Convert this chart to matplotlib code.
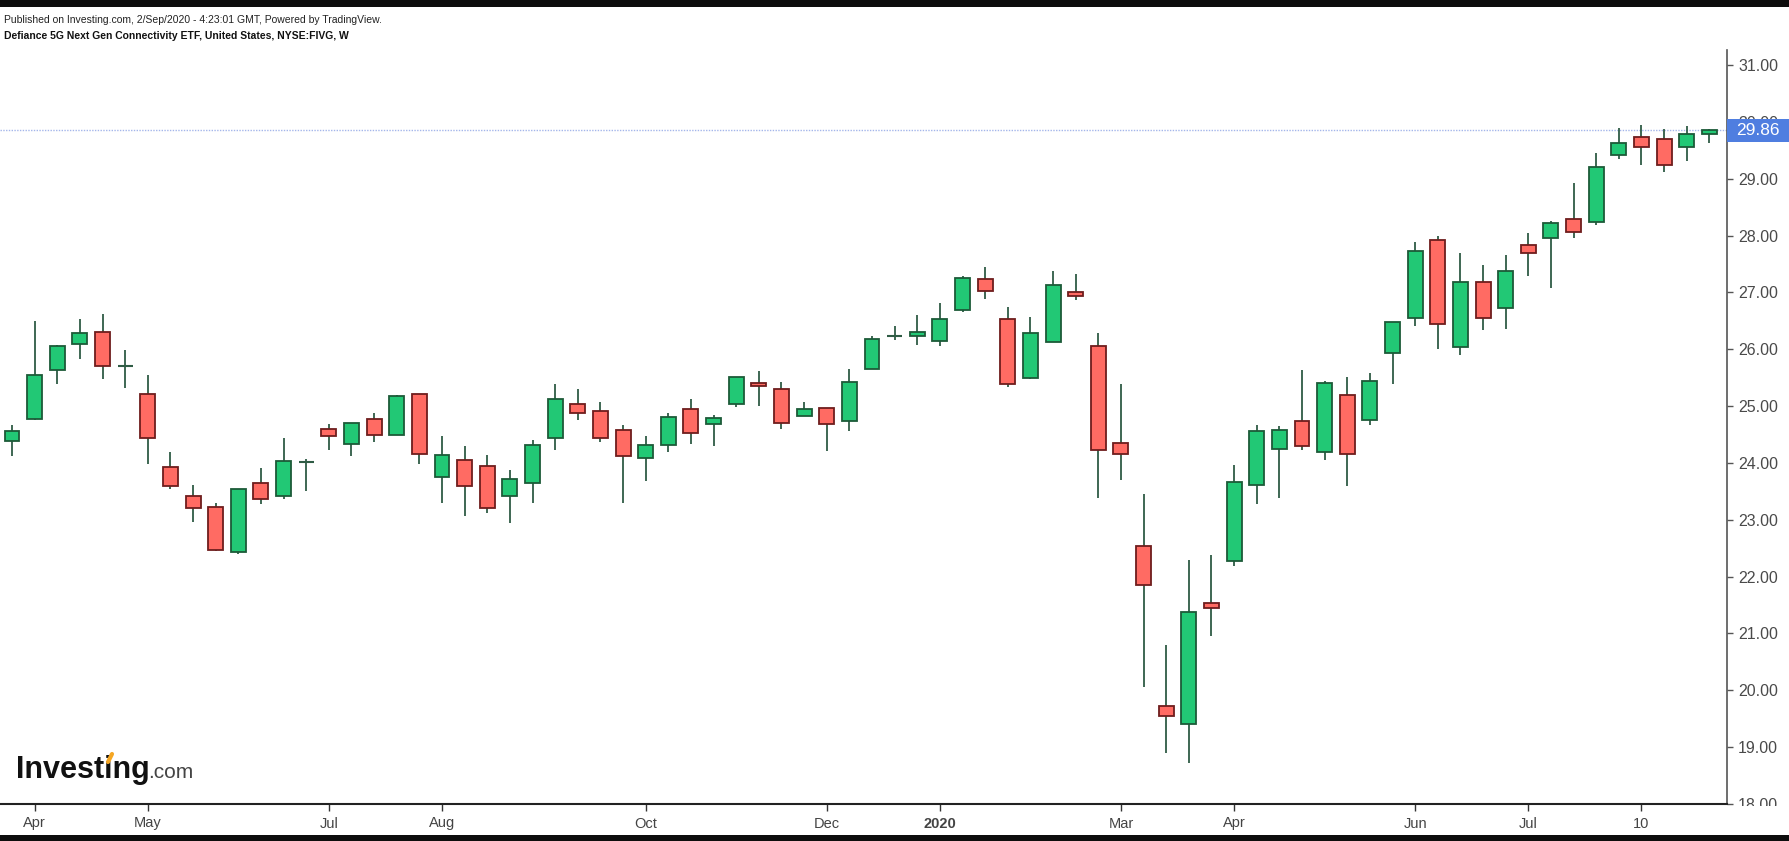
import numpy as np
import pandas as pd
import matplotlib
matplotlib.use('Agg')
import matplotlib.pyplot as plt
from matplotlib.patches import Rectangle
from matplotlib.lines import Line2D

plt.rcParams['font.family'] = ['Liberation Sans', 'DejaVu Sans']

# weekly bars, FIVG, 25 Mar 2019 .. 31 Aug 2020
opens = [24.39, 24.78, 25.63, 26.10, 26.31, 25.71, 25.22, 23.93, 23.41, 23.23,
         22.43, 23.65, 23.41, 24.01, 24.60, 24.34, 24.78, 24.49, 25.22, 23.75,
         24.06, 23.95, 23.41, 23.65, 24.44, 25.04, 24.91, 24.58, 24.08, 24.31,
         24.94, 24.68, 25.04, 25.41, 25.30, 24.83, 24.96, 24.73, 25.65, 26.23,
         26.23, 26.14, 26.69, 27.23, 26.54, 25.50, 26.12, 27.00, 26.05, 24.35,
         22.53, 19.72, 19.41, 21.54, 22.27, 23.61, 24.24, 24.73, 24.19, 25.20,
         24.75, 25.94, 26.55, 27.93, 26.04, 27.19, 26.72, 27.83, 27.95, 28.29,
         28.24, 29.42, 29.74, 29.69, 29.55, 29.79]
highs = [24.66, 26.49, 26.08, 26.54, 26.62, 25.98, 25.54, 24.19, 23.62, 23.29,
         23.54, 23.91, 24.43, 24.07, 24.69, 24.70, 24.87, 25.20, 25.22, 24.48,
         24.30, 24.14, 23.88, 24.40, 25.39, 25.30, 25.07, 24.66, 24.48, 24.87,
         25.12, 24.84, 25.51, 25.62, 25.43, 25.07, 24.96, 25.66, 26.24, 26.41,
         26.60, 26.81, 27.29, 27.45, 26.75, 26.57, 27.37, 27.32, 26.28, 25.38,
         23.46, 20.80, 22.30, 22.38, 23.97, 24.67, 24.65, 25.64, 25.44, 25.52,
         25.59, 26.48, 27.89, 28.00, 27.69, 27.48, 27.65, 28.04, 28.25, 28.92,
         29.46, 29.90, 29.95, 29.87, 29.93, 29.87]
lows = [24.13, 24.76, 25.39, 25.83, 25.47, 25.32, 23.98, 23.55, 22.96, 22.45,
        22.39, 23.28, 23.36, 23.50, 24.23, 24.13, 24.36, 24.49, 23.98, 23.30,
        23.07, 23.12, 22.95, 23.30, 24.23, 24.75, 24.36, 23.30, 23.69, 24.19,
        24.33, 24.30, 24.98, 25.01, 24.59, 24.83, 24.21, 24.56, 25.65, 26.17,
        26.08, 26.06, 26.65, 26.89, 25.34, 25.48, 26.12, 26.86, 23.39, 23.70,
        20.06, 18.89, 18.73, 20.96, 22.19, 23.27, 23.39, 24.22, 24.06, 23.60,
        24.67, 25.39, 26.40, 26.00, 25.89, 26.33, 26.35, 27.28, 27.08, 27.95,
        28.18, 29.34, 29.24, 29.11, 29.32, 29.62]
closes = [24.57, 25.55, 26.05, 26.28, 25.70, 25.71, 24.44, 23.59, 23.20, 22.46,
          23.54, 23.36, 24.04, 24.01, 24.47, 24.70, 24.49, 25.18, 24.16, 24.14,
          23.59, 23.20, 23.72, 24.32, 25.12, 24.88, 24.44, 24.13, 24.32, 24.81,
          24.52, 24.79, 25.51, 25.35, 24.70, 24.94, 24.68, 25.43, 26.18, 26.23,
          26.31, 26.54, 27.26, 27.02, 25.39, 26.28, 27.13, 26.94, 24.22, 24.16,
          21.85, 19.54, 21.37, 21.45, 23.66, 24.56, 24.58, 24.30, 25.41, 24.15,
          25.44, 26.48, 27.73, 26.45, 27.19, 26.55, 27.37, 27.70, 28.22, 28.06,
          29.20, 29.63, 29.55, 29.24, 29.79, 29.86]

weeks = pd.date_range('2019-03-25', periods=len(opens), freq='W-MON')
tick_dates = ['2019-04-01', '2019-05-06', '2019-07-01', '2019-08-05', '2019-10-07',
              '2019-12-02', '2020-01-06', '2020-03-02', '2020-04-06', '2020-06-01',
              '2020-07-06', '2020-08-10']
tick_labels = ['Apr', 'May', 'Jul', 'Aug', 'Oct', 'Dec', '2020', 'Mar', 'Apr',
               'Jun', 'Jul', '10']
y_ticks = list(range(18, 32))
last_price = 29.86

W, H = 1789, 841
fig = plt.figure(figsize=(W / 100, H / 100), dpi=100)
ax = fig.add_axes([0, 1 - 804 / H, 1727 / W, (804 - 50) / H])

green, red = '#22c875', '#ff6b63'
green_edge, red_edge = '#1c5a38', '#6e1d1d'
wick_c = '#2f5c45'
bw = 0.66

x = np.arange(len(opens))
for i in x:
    o, h, l, c = opens[i], highs[i], lows[i], closes[i]
    ax.vlines(i, l, h, color=wick_c, lw=1.3, zorder=2)
    if abs(c - o) < 0.02:
        ax.hlines(o, i - bw / 2, i + bw / 2, color=wick_c, lw=1.5, zorder=3)
        continue
    up = c >= o
    ax.bar(i, abs(c - o), bottom=min(o, c), width=bw,
           color=green if up else red, edgecolor=green_edge if up else red_edge,
           linewidth=1.3, zorder=3)

ax.axhline(last_price, color='#a4b6ea', lw=1, ls=(0, (1, 1)), zorder=1)

ax.set_xlim(-0.53, 75.78)
ax.set_ylim(18.013, 31.264)

for s in ['top', 'left']:
    ax.spines[s].set_visible(False)
ax.spines['bottom'].set_color('#222222')
ax.spines['bottom'].set_linewidth(1.5)
ax.spines['right'].set_color('#555555')
ax.spines['right'].set_linewidth(1.2)

tick_idx = weeks.get_indexer(pd.to_datetime(tick_dates))
ax.set_xticks(tick_idx)
ax.set_xticklabels(tick_labels)
for t in ax.get_xticklabels():
    if t.get_text() == '2020':
        t.set_fontweight('bold')
ax.tick_params(axis='x', length=5, width=1, color='#333333', labelsize=10.5,
               labelcolor='#444444', pad=4)

ax.yaxis.tick_right()
ax.set_yticks(y_ticks)
ax.set_yticklabels(['%.2f' % v for v in y_ticks])
ax.tick_params(axis='y', length=4, width=1, color='#555555', labelsize=11.5,
               labelcolor='#4a4a4a', pad=4)

# last price tag (covers the 30.00 label, as in the source)
fig.add_artist(Rectangle((1727 / W, 1 - 142 / H), 62 / W, 23 / H, transform=fig.transFigure,
                         facecolor='#4f7ee0', edgecolor='none', zorder=5))
fig.text(1758 / W, 1 - 130.5 / H, '%.2f' % last_price, color='white', fontsize=12.5,
         ha='center', va='center', zorder=6)
# hide lower half of the 18.00 label like the source
fig.add_artist(Rectangle((1727.5 / W, 1 - 835 / H), 62 / W, 29 / H, transform=fig.transFigure,
                         facecolor='white', edgecolor='none', zorder=5))

# frame bars
fig.add_artist(Rectangle((0, 1 - 7 / H), 1, 7 / H, transform=fig.transFigure,
                         facecolor='#0d0d0d', edgecolor='none', zorder=6))
fig.add_artist(Rectangle((0, 0), 1, 6 / H, transform=fig.transFigure,
                         facecolor='#0d0d0d', edgecolor='none', zorder=6))

fig.text(4 / W, 1 - 20 / H, 'Published on Investing.com, 2/Sep/2020 - 4:23:01 GMT, Powered by TradingView.',
         fontsize=7.5, color='#222222', va='center')
fig.text(4 / W, 1 - 36 / H, 'Defiance 5G Next Gen Connectivity ETF, United States, NYSE:FIVG, W',
         fontsize=7.5, fontweight='bold', color='#111111', va='center')

# logo
fig.text(16 / W, 1 - 778 / H, 'Investing', fontsize=22, fontweight='bold', color='#111111',
         va='baseline')
fig.text(148 / W, 1 - 778 / H, '.com', fontsize=15, color='#444444', va='baseline')
fig.add_artist(Line2D([108 / W, 112 / W], [1 - 762 / H, 1 - 754 / H], transform=fig.transFigure,
                      color='#f5a623', lw=3, solid_capstyle='round', zorder=6))

fig.savefig('out.png', dpi=100, facecolor='white')
